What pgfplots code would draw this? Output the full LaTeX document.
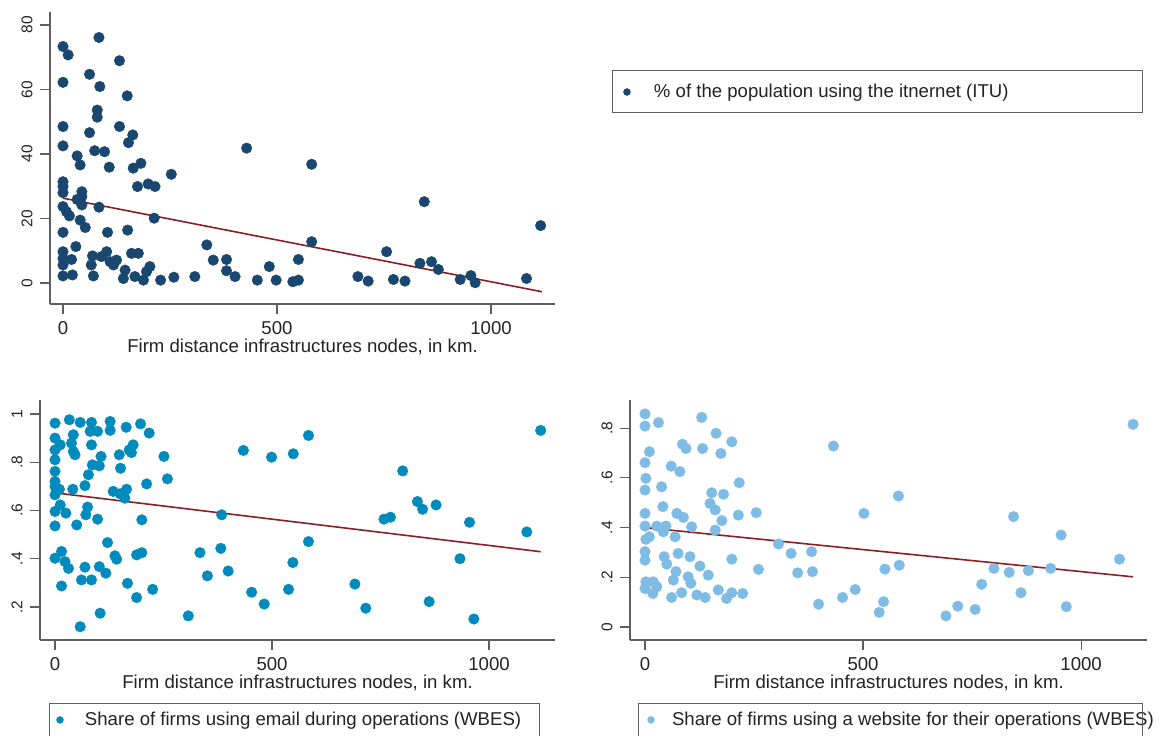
\documentclass[border=0pt]{standalone}
\usepackage{fontspec}
\setmainfont{Liberation Sans}
\usepackage{pgfplots}
\pgfplotsset{compat=1.18}
\definecolor{stnavy}{RGB}{26,71,111}
\definecolor{stblue}{RGB}{0,139,188}
\definecolor{stlblue}{RGB}{126,188,230}
\definecolor{fitred}{RGB}{140,30,35}
\definecolor{axgray}{RGB}{95,95,95}
\definecolor{txt}{RGB}{35,35,35}
\newcommand{\fsz}{\fontsize{18.6}{22}\selectfont}
\newcommand{\ysz}{\fontsize{15.5}{18}\selectfont}
\pgfplotsset{
 stata/.style={
  scale only axis, clip=false,
  axis x line*=bottom, axis y line*=left,
  axis line style={draw=axgray, line width=1.2pt},
  every tick/.style={draw=axgray, line width=1.2pt},
  tick align=outside, major tick length=10pt,
  xtick={0,500,1000}, xticklabels={0,500,1000},
  xticklabel style={font=\fsz, text=txt},
  yticklabel style={font=\ysz, text=txt, rotate=90, anchor=south},
  xticklabel shift=4pt,
  yticklabel shift=4pt,
  xlabel={Firm distance infrastructures nodes, in km.},
  xlabel style={font=\fsz, text=txt, at={(axis description cs:0.5,0)}, anchor=center, yshift=-43pt},
  legend image code/.code={\draw[##1, mark size=3.5pt] plot coordinates {(0pt,0pt)};},
  legend style={draw=none, fill=none, inner sep=0pt, outer sep=0pt, font=\fsz, text=txt, anchor=west, nodes={inner sep=0pt}},
  /pgf/number format/assume math mode=true,
 },
 dots/.style={only marks, mark=*, mark size=5.3pt, color=#1, mark options={draw=#1, fill=#1}},
 fit/.style={fitred, line width=1.6pt, forget plot},
}
\begin{document}
\begin{tikzpicture}
\useasboundingbox (0,0) rectangle (1167pt,736pt);
% ---------- panel 1 ----------
\begin{axis}[stata, at={(50pt,432pt)}, anchor=south west, width=505pt, height=292pt,
  xmin=-30.4, xmax=1149.5, ymin=-6.5, ymax=84,
  ytick={0,20,40,60,80}, yticklabels={0,20,40,60,80},
  legend style={at={(1.1356,0.726)}, /tikz/column sep=23.5pt}]
\addplot[dots=stnavy] table {
x y
0 73.3
12 70.7
84 76.1
132 68.9
62 64.7
0 62.2
86 60.9
150 58.0
80 53.6
80 51.4
0 48.5
132 48.5
62 46.6
163 45.9
153 43.5
0 42.5
74 41.0
97 40.7
33 39.4
40 36.6
108 35.9
164 35.6
182 37.1
174 29.9
199 30.7
215 29.9
253 33.7
0 31.4
0 29.9
0 28.0
44 28.3
44 26.8
33 25.9
44 24.2
0 23.7
8 22.1
15 20.8
84 23.5
213 20.1
40 19.5
52 17.2
0 15.7
104 15.7
151 16.4
30 11.3
0 9.7
0 7.6
20 7.3
0 5.6
69 8.4
66 5.6
71 2.2
90 8.2
102 9.7
110 6.6
125 7.1
118 5.6
145 4.0
141 1.4
160 9.2
176 9.2
168 2.0
188 0.9
195 3.5
203 5.1
0 2.2
22 2.5
228 0.9
259 1.8
308 2.0
336 11.8
351 7.1
382 7.3
382 3.8
402 2.0
429 41.8
454 0.9
482 5.1
498 0.9
537 0.4
550 7.3
550 0.9
581 36.8
581 12.8
689 2.0
713 0.6
756 9.7
772 1.1
799 0.6
834 6.1
844 25.2
861 6.6
877 4.2
928 1.1
953 2.3
963 0.1
1083 1.4
1116 17.8
};
\addlegendentry{\% of the population using the itnernet (ITU)}
\addplot[fit] coordinates {(0,26.3) (1119,-2.7)};
\end{axis}
% ---------- panel 2 ----------
\begin{axis}[stata, at={(40pt,96pt)}, anchor=south west, width=515pt, height=240pt,
  xmin=-34.6, xmax=1152, ymin=0.063, ymax=1.058,
  ytick={0.2,0.4,0.6,0.8,1}, yticklabels={.2,.4,.6,.8,1},
  legend style={at={(0.032,-0.333)}, /tikz/column sep=21.5pt}]
\addplot[dots=stblue] table {
x y
0 .962
33 .976
58 .965
84 .965
127 .969
127 .932
164 .945
197 .959
217 .921
0 .900
42 .914
81 .928
98 .928
12 .872
38 .879
84 .872
0 .851
42 .845
46 .831
180 .872
176 .840
171 .851
148 .831
251 .824
0 .810
106 .824
86 .789
102 .785
151 .775
0 .762
77 .748
0 .720
211 .710
259 .731
69 .703
0 .699
10 .688
41 .688
134 .679
150 .669
165 .688
161 .651
0 .665
12 .623
0 .596
25 .589
75 .614
71 .582
98 .564
200 .561
0 .536
50 .540
384 .582
121 .467
138 .412
142 .398
15 .430
0 .402
23 .388
31 .360
69 .365
102 .367
117 .340
61 .312
84 .312
188 .416
200 .425
167 .298
15 .287
188 .239
225 .273
334 .425
351 .329
382 .443
399 .349
104 .174
58 .118
307 .163
434 .849
499 .821
549 .835
453 .261
482 .212
538 .273
548 .384
584 .471
584 .911
691 .295
716 .195
758 .564
773 .572
801 .764
835 .637
847 .605
878 .623
862 .222
933 .400
955 .551
965 .150
1087 .511
1119 .932
};
\addlegendentry{Share of firms using email during operations (WBES)}
\addplot[fit] coordinates {(0,0.673) (1119,0.429)};
\end{axis}
% ---------- panel 3 ----------
\begin{axis}[stata, at={(630pt,96pt)}, anchor=south west, width=517pt, height=240pt,
  xmin=-34.4, xmax=1151, ymin=-0.052, ymax=0.913,
  ytick={0,0.2,0.4,0.6,0.8}, yticklabels={0,.2,.4,.6,.8},
  legend style={at={(0.0339,-0.333)}, /tikz/column sep=17.5pt}]
\addplot[dots=stlblue] table {
x y
0 .857
0 .808
31 .822
130 .843
163 .779
199 .745
86 .735
94 .718
132 .718
174 .698
10 .705
0 .661
60 .647
80 .625
2 .598
0 .551
38 .564
216 .580
153 .540
180 .534
149 .497
161 .471
0 .457
41 .484
73 .457
88 .441
176 .428
214 .450
255 .460
0 .406
27 .406
48 .406
42 .383
107 .403
161 .390
2 .353
10 .363
69 .363
0 .303
0 .269
44 .283
50 .253
76 .296
103 .283
126 .245
145 .209
199 .273
260 .232
71 .223
65 .189
99 .202
105 .176
2 .182
19 .182
27 .162
0 .155
18 .135
61 .119
84 .138
119 .129
138 .119
168 .149
187 .115
199 .138
224 .135
306 .334
335 .296
382 .303
350 .218
384 .223
398 .092
453 .119
482 .151
432 .728
502 .457
550 .233
583 .249
547 .102
537 .059
581 .527
690 .045
717 .084
757 .071
772 .172
800 .236
835 .220
845 .444
862 .138
879 .227
930 .236
954 .370
966 .082
1088 .273
1119 .815
};
\addlegendentry{Share of firms using a website for their operations (WBES)}
\addplot[fit] coordinates {(0,0.400) (1119,0.202)};
\end{axis}
% legend frames
\draw[axgray, line width=1pt] (612pt,665pt) rectangle (1142pt,623pt);
\draw[axgray, line width=1pt] (49pt,32pt) rectangle (539pt,-30pt);
\draw[axgray, line width=1pt] (638pt,32pt) rectangle (1142pt,-30pt);
\end{tikzpicture}
\end{document}
